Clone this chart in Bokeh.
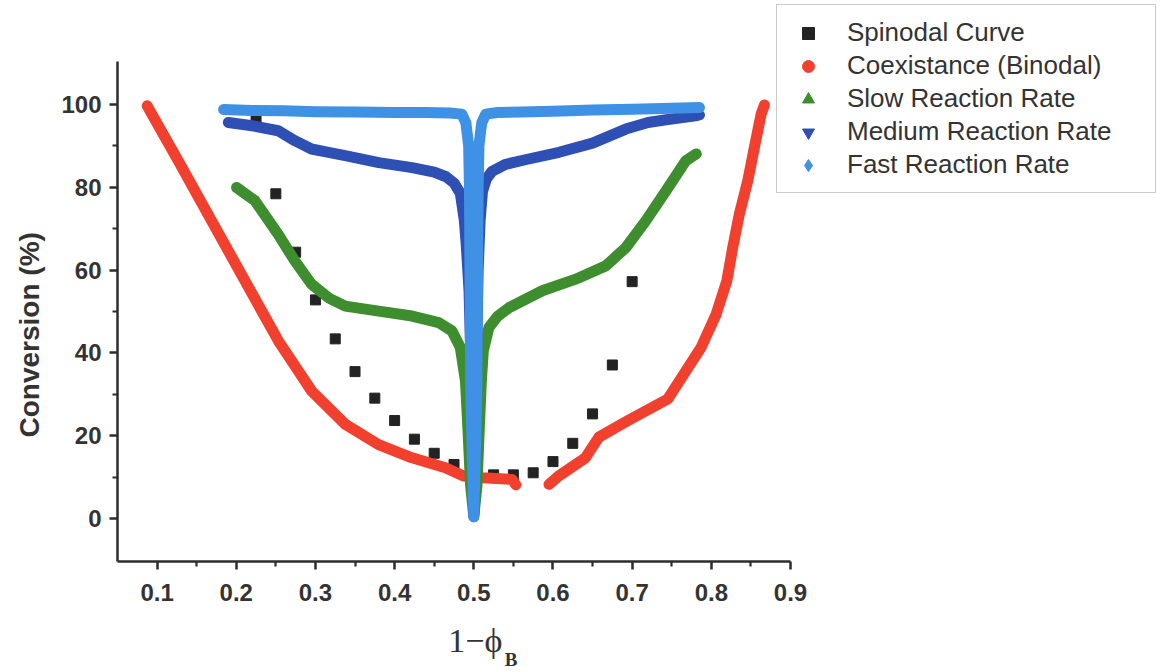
import math
from bokeh.plotting import figure
from bokeh.models import (Range1d, FixedTicker, Legend, LegendItem, LinearAxis,
                          PrintfTickFormatter)
from bokeh.embed import file_html
from bokeh.resources import INLINE

# ---------------- data ----------------
spin_x = [0.225, 0.25, 0.275, 0.30, 0.325, 0.35, 0.375, 0.40, 0.425, 0.45, 0.475,
          0.525, 0.55, 0.575, 0.60, 0.625, 0.65, 0.675, 0.70]
spin_y = [96.1, 78.4, 64.3, 52.8, 43.4, 35.5, 29.1, 23.7, 19.2, 15.8, 13.1,
          10.6, 10.6, 11.1, 13.8, 18.2, 25.3, 37.1, 57.2]

bin_left_x = [0.0875, 0.1266, 0.1687, 0.211, 0.2532, 0.2953, 0.3376, 0.3797, 0.4219,
              0.4642, 0.487, 0.5105, 0.5485, 0.553]
bin_left_y = [99.6, 86.4, 71.9, 57.4, 42.9, 30.8, 22.8, 17.9, 14.7,
              12.3, 10.3, 9.9, 9.5, 8.2]
bin_right_x = [0.595, 0.607, 0.641, 0.658, 0.692, 0.745, 0.7595, 0.787, 0.806, 0.8196,
               0.827, 0.8354, 0.846, 0.8544, 0.8629, 0.867]
bin_right_y = [8.3, 10.3, 14.7, 19.7, 23.4, 28.9, 33.2, 41.3, 49.3, 57.4,
               65.4, 73.5, 81.5, 89.6, 97.6, 99.8]

slow_x = [0.2004, 0.2237, 0.253, 0.274, 0.295, 0.3165, 0.3376, 0.38, 0.422, 0.4557,
          0.4725, 0.483, 0.4895, 0.4925, 0.496, 0.5, 0.504, 0.507, 0.5095, 0.512,
          0.519, 0.53, 0.5443, 0.5865, 0.6287, 0.6667, 0.692, 0.7173, 0.7427, 0.768, 0.781]
slow_y = [79.9, 76.7, 68.6, 62.2, 56.6, 53.3, 51.3, 50.1, 48.9, 47.3,
          45.3, 41.3, 33.2, 22.0, 8.0, 0.5, 8.0, 22.0, 33.0, 40.5,
          46.1, 48.8, 50.9, 55.0, 57.8, 61.0, 65.4, 71.9, 79.1, 86.4, 88.0]

med_x = [0.19, 0.22, 0.253, 0.274, 0.295, 0.3165, 0.3376, 0.38, 0.422, 0.45, 0.465,
         0.475, 0.483, 0.488, 0.4905, 0.494, 0.4975, 0.5, 0.5025, 0.5055, 0.508, 0.511,
         0.516, 0.523, 0.54, 0.565, 0.6076, 0.65, 0.692, 0.72, 0.745, 0.78, 0.785]
med_y = [95.6, 94.8, 93.6, 91.2, 89.2, 88.4, 87.6, 85.9, 84.7, 83.6, 82.5,
         81.0, 78.5, 72.0, 66.0, 55.0, 30.0, 1.0, 30.0, 60.0, 72.0, 79.0,
         82.0, 83.8, 85.5, 86.6, 88.4, 90.6, 94.0, 95.6, 96.3, 97.2, 97.4]

fast_x = [0.184, 0.22, 0.26, 0.30, 0.35, 0.40, 0.44, 0.47, 0.485, 0.49, 0.4935,
          0.4945, 0.4962, 0.5, 0.5038, 0.5055, 0.5065, 0.51, 0.515, 0.53, 0.56,
          0.60, 0.65, 0.70, 0.75, 0.785]
fast_y = [98.7, 98.5, 98.4, 98.2, 98.1, 98.0, 98.0, 97.9, 97.6, 95.5, 90.0,
          80.0, 30.0, 0.5, 30.0, 80.0, 90.0, 95.5, 97.6, 98.0, 98.1,
          98.3, 98.6, 98.8, 99.0, 99.2]

x_major = [0.1, 0.2, 0.3, 0.4, 0.5, 0.6, 0.7, 0.8, 0.9]
x_minor = [0.15, 0.25, 0.35, 0.45, 0.55, 0.65, 0.75, 0.85]
y_major = [0, 20, 40, 60, 80, 100]
y_minor = [10, 30, 50, 70, 90]

labels = ["Spinodal Curve", "Coexistance (Binodal)", "Slow Reaction Rate",
          "Medium Reaction Rate", "Fast Reaction Rate"]

# ---------------- style ----------------
BLACK = "#232323"
RED = "#f2402e"
GREEN = "#3e8e30"
MED = "#2e4fb3"
FAST = "#3e91e4"
AX = "#2d2d2d"
TXT = "#333333"
LW = 11
NB = "\u00a0"

p = figure(frame_width=673, frame_height=500,
           min_border_left=117, min_border_top=61, min_border_right=370, min_border_bottom=100,
           x_range=Range1d(0.05, 0.9), y_range=Range1d(-10.3, 110.3),
           output_backend="svg", toolbar_location=None)

p.xgrid.visible = False
p.ygrid.visible = False
p.outline_line_color = None
p.background_fill_color = "white"
p.border_fill_color = "white"

for ax in (p.xaxis[0], p.yaxis[0]):
    ax.axis_line_color = AX
    ax.axis_line_width = 2.5
    ax.major_tick_line_color = AX
    ax.major_tick_line_width = 2.5
    ax.major_tick_out = 8
    ax.major_tick_in = 0
    ax.minor_tick_line_color = AX
    ax.minor_tick_line_width = 2.2
    ax.minor_tick_out = 5
    ax.minor_tick_in = 0
    ax.major_label_text_font = "Liberation Sans"
    ax.major_label_text_font_style = "bold"
    ax.major_label_text_font_size = "24px"
    ax.major_label_text_color = TXT

p.xaxis.major_label_standoff = 14
p.yaxis.major_label_standoff = 8

p.xaxis.ticker = FixedTicker(ticks=x_major, minor_ticks=x_minor)
p.yaxis.ticker = FixedTicker(ticks=y_major, minor_ticks=y_minor)
p.xaxis.formatter = PrintfTickFormatter(format="%.1f")
p.yaxis.formatter = PrintfTickFormatter(format="%d")

# axis titles
p.yaxis.axis_label = "Conversion (%)" + NB * 6
p.yaxis.axis_label_text_font = "Liberation Sans"
p.yaxis.axis_label_text_font_style = "bold"
p.yaxis.axis_label_text_font_size = "28px"
p.yaxis.axis_label_text_color = TXT
p.yaxis.axis_label_standoff = 13

p.xaxis.axis_label = NB * 5 + "1\u2212\u03d5"
p.xaxis.axis_label_text_font = "Liberation Serif"
p.xaxis.axis_label_text_font_style = "normal"
p.xaxis.axis_label_text_font_size = "34px"
p.xaxis.axis_label_text_color = TXT
p.xaxis.axis_label_standoff = 18

# subscript "B" of the x title, carried by a bare second axis below
sub_axis = LinearAxis(ticker=FixedTicker(ticks=[]), axis_label=NB * 24 + "B",
                      axis_line_color=None, major_tick_line_color=None,
                      minor_tick_line_color=None, major_label_text_font_size="0px",
                      major_tick_out=0, minor_tick_out=0, major_label_standoff=0,
                      axis_label_standoff=-13,
                      axis_label_text_font="Liberation Serif",
                      axis_label_text_font_style="bold",
                      axis_label_text_font_size="19px", axis_label_text_color=TXT)
p.add_layout(sub_axis, "below")

# ---------------- marks ----------------
# tiny marker renderers that carry the legend symbols (covered by the lines)
r_bin = p.scatter(bin_left_x, bin_left_y, marker="circle", size=1, color=RED)
r_slow = p.scatter(slow_x, slow_y, marker="triangle", size=1, color=GREEN)
r_med = p.scatter(med_x, med_y, marker="inverted_triangle", size=1, color=MED)
r_fast = p.scatter(fast_x, fast_y, marker="diamond", size=1, color=FAST)

r_spin = p.scatter(spin_x, spin_y, marker="square", size=10, color=BLACK)
p.line(bin_left_x, bin_left_y, line_width=LW, color=RED, line_cap="round", line_join="round")
p.line(bin_right_x, bin_right_y, line_width=LW, color=RED, line_cap="round", line_join="round")
p.line(slow_x, slow_y, line_width=LW, color=GREEN, line_cap="round", line_join="round")
p.line(med_x, med_y, line_width=LW, color=MED, line_cap="round", line_join="round")
p.line(fast_x, fast_y, line_width=LW, color=FAST, line_cap="round", line_join="round")

legend = Legend(items=[LegendItem(label=l, renderers=[r]) for l, r in
                       zip(labels, [r_spin, r_bin, r_slow, r_med, r_fast])],
                location=(-14, 368), orientation="vertical", click_policy="none",
                label_text_font="Liberation Sans", label_text_font_size="26px",
                label_text_color=TXT, glyph_width=38, glyph_height=30, label_height=30,
                label_width=296, label_standoff=20, padding=12, spacing=2, margin=0,
                border_line_color="#9a9a9a", border_line_width=1.2,
                background_fill_color="white", background_fill_alpha=1)
p.add_layout(legend, "right")

open("out.html", "w").write(file_html(p, INLINE))
